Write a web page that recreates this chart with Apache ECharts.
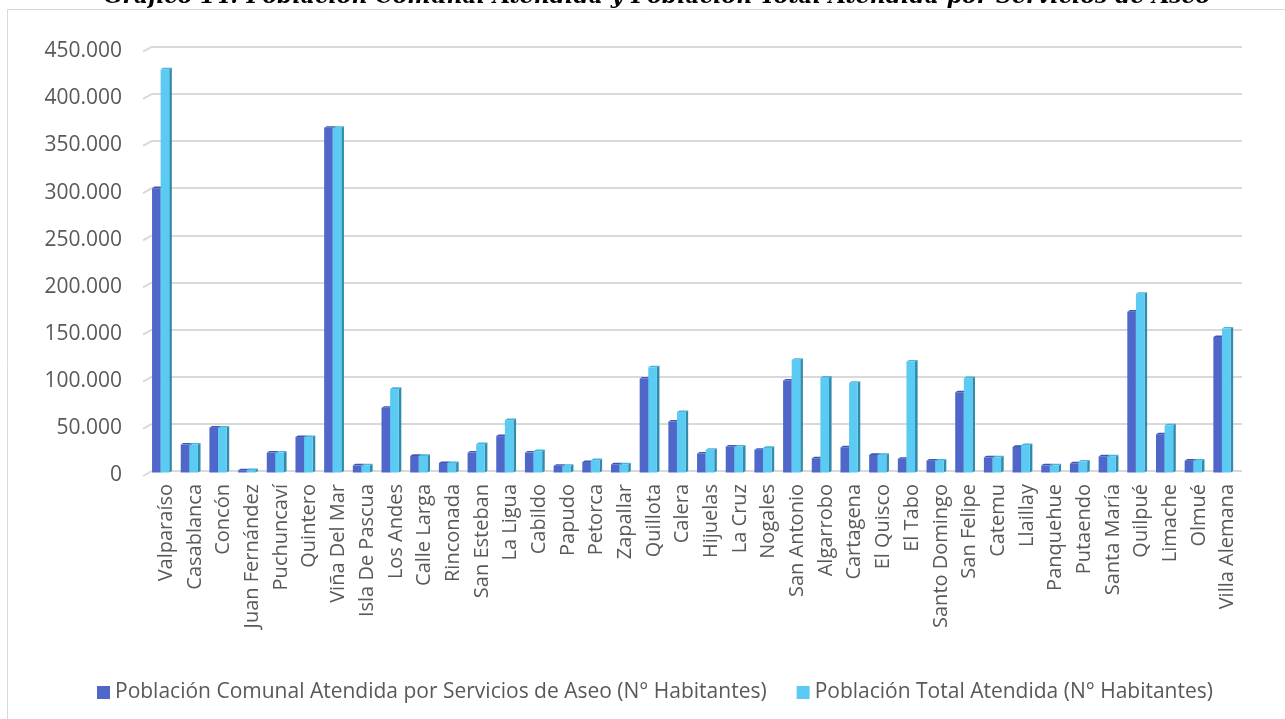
<!DOCTYPE html>
<html><head><meta charset="utf-8">
<script src="https://cdn.jsdelivr.net/npm/echarts@6/dist/echarts.min.js"></script>
<style>html,body{margin:0;padding:0;background:#fff}#c{width:1285px;height:719px}</style>
</head><body><div id="c"></div>
<script>
var titleText = "Gráfico 14: Población Comunal Atendida y Población Total Atendida por Servicios de Aseo";
var categories = ["Valparaíso","Casablanca","Concón","Juan Fernández","Puchuncaví","Quintero","Viña Del Mar","Isla De Pascua","Los Andes","Calle Larga","Rinconada","San Esteban","La Ligua","Cabildo","Papudo","Petorca","Zapallar","Quillota","Calera","Hijuelas","La Cruz","Nogales","San Antonio","Algarrobo","Cartagena","El Quisco","El Tabo","Santo Domingo","San Felipe","Catemu","Llaillay","Panquehue","Putaendo","Santa María","Quilpué","Limache","Olmué","Villa Alemana"];
var comunal = [300000,28000,46000,800,19500,36000,364000,6000,67000,16000,8500,19500,37000,19500,5500,9500,7000,98000,52500,18500,26000,22500,96000,13500,25000,17000,13000,11000,83500,14500,25500,6000,8000,15500,169000,39000,11000,142000];
var total = [426000,28000,46000,1000,19500,36000,364000,6000,87000,16000,8500,28500,54000,21000,5500,11500,7000,110000,62500,22500,26000,24500,118000,99000,93500,17000,116000,11000,98500,14500,27500,6000,10000,15500,188000,48500,11000,151000];
var yTicks = [0,50000,100000,150000,200000,250000,300000,350000,400000,450000];
var seriesNames = ["Población Comunal Atendida por Servicios de Aseo (N° Habitantes)","Población Total Atendida (N° Habitantes)"];

var chart = echarts.init(document.getElementById('c'), null, {renderer:'canvas'});
var FONT = '"Open Sans", sans-serif';
var colors = [
  {front:'#4F67C8', side:'#34479A', top:'#3F55B0'},
  {front:'#5BCBF4', side:'#2F8CAD', top:'#47B2DA'}
];
function fmt(v){ return '{v|' + (v === 0 ? '0' : (v/1000).toFixed(0) + '.000') + '}'; }

function barRender(k){
  return function(params, api){
    var idx = api.value(0), val = api.value(1);
    var top = api.coord([idx, val]);
    var base = api.coord([idx, 0]);
    var w = 8.6, d = 2.6, dd = 1.6, sx = -5.7;
    var x0 = top[0] + sx + (k === 0 ? -w : 0);
    var c = colors[k];
    var y1 = top[1], y2 = base[1] + 1.5;
    return {type:'group', children:[
      {type:'polygon', shape:{points:[[x0+w,y1],[x0+w+d,y1-dd],[x0+w+d,y2-dd],[x0+w,y2]]}, style:{fill:c.side}},
      {type:'polygon', shape:{points:[[x0,y1],[x0+d,y1-dd],[x0+w+d,y1-dd],[x0+w,y1]]}, style:{fill:c.top}},
      {type:'rect', shape:{x:x0, y:y1, width:w, height:Math.max(0,y2-y1)}, style:{fill:c.front}}
    ]};
  };
}
function wallRender(params, api){
  var v = api.value(0);
  var p = api.coord([0, v]);
  var half = api.size([1,0])[0]/2;
  var x = p[0]-half;
  return {type:'line', shape:{x1:x, y1:p[1], x2:x-9, y2:p[1]+5}, style:{stroke:'#d9d9d9', lineWidth:2}};
}

chart.setOption({
  backgroundColor:'#fff',
  animation:false,
  title:{text:titleText, left:652, textAlign:'center', top:-19,
    textStyle:{fontFamily:'"DejaVu Serif", serif', fontStyle:'italic', fontWeight:'bold', fontSize:22, color:'#000'}},
  graphic:[{type:'rect', shape:{x:7.5, y:9.5, width:1400, height:800}, style:{fill:'none', stroke:'#d9d9d9', lineWidth:1}, z:-10}],
  grid:{left:152, right:43, top:46.7, bottom:248},
  legend:{data:seriesNames, left:92, top:677, itemWidth:13, itemHeight:13, itemGap:30, icon:'rect',
    textStyle:{fontFamily:FONT, fontSize:21, color:'#595959'}},
  xAxis:{type:'category', data:categories, boundaryGap:true,
    axisLine:{show:false}, axisTick:{show:false},
    axisLabel:{rotate:90, interval:0, margin:13, fontFamily:FONT, fontSize:20, color:'#595959'}},
  yAxis:{type:'value', min:0, max:450000, interval:50000,
    axisLine:{show:false}, axisTick:{show:false},
    splitLine:{lineStyle:{color:'#d9d9d9', width:2}},
    axisLabel:{margin:30, fontFamily:FONT, fontSize:21, color:'#595959', formatter:fmt,
      rich:{v:{fontFamily:FONT, fontSize:21, color:'#595959', padding:[9,0,0,0]}}}},
  series:[
    {name:seriesNames[0], type:'custom', renderItem:barRender(0), itemStyle:{color:colors[0].front},
      data:comunal.map(function(v,i){return [i,v];}), encode:{x:0,y:1}, z:2},
    {name:seriesNames[1], type:'custom', renderItem:barRender(1), itemStyle:{color:colors[1].front},
      data:total.map(function(v,i){return [i,v];}), encode:{x:0,y:1}, z:3},
    {name:'wall', type:'custom', renderItem:wallRender, data:yTicks.map(function(v){return [v];}),
      encode:{y:0}, silent:true, z:1}
  ]
});
</script></body></html>
